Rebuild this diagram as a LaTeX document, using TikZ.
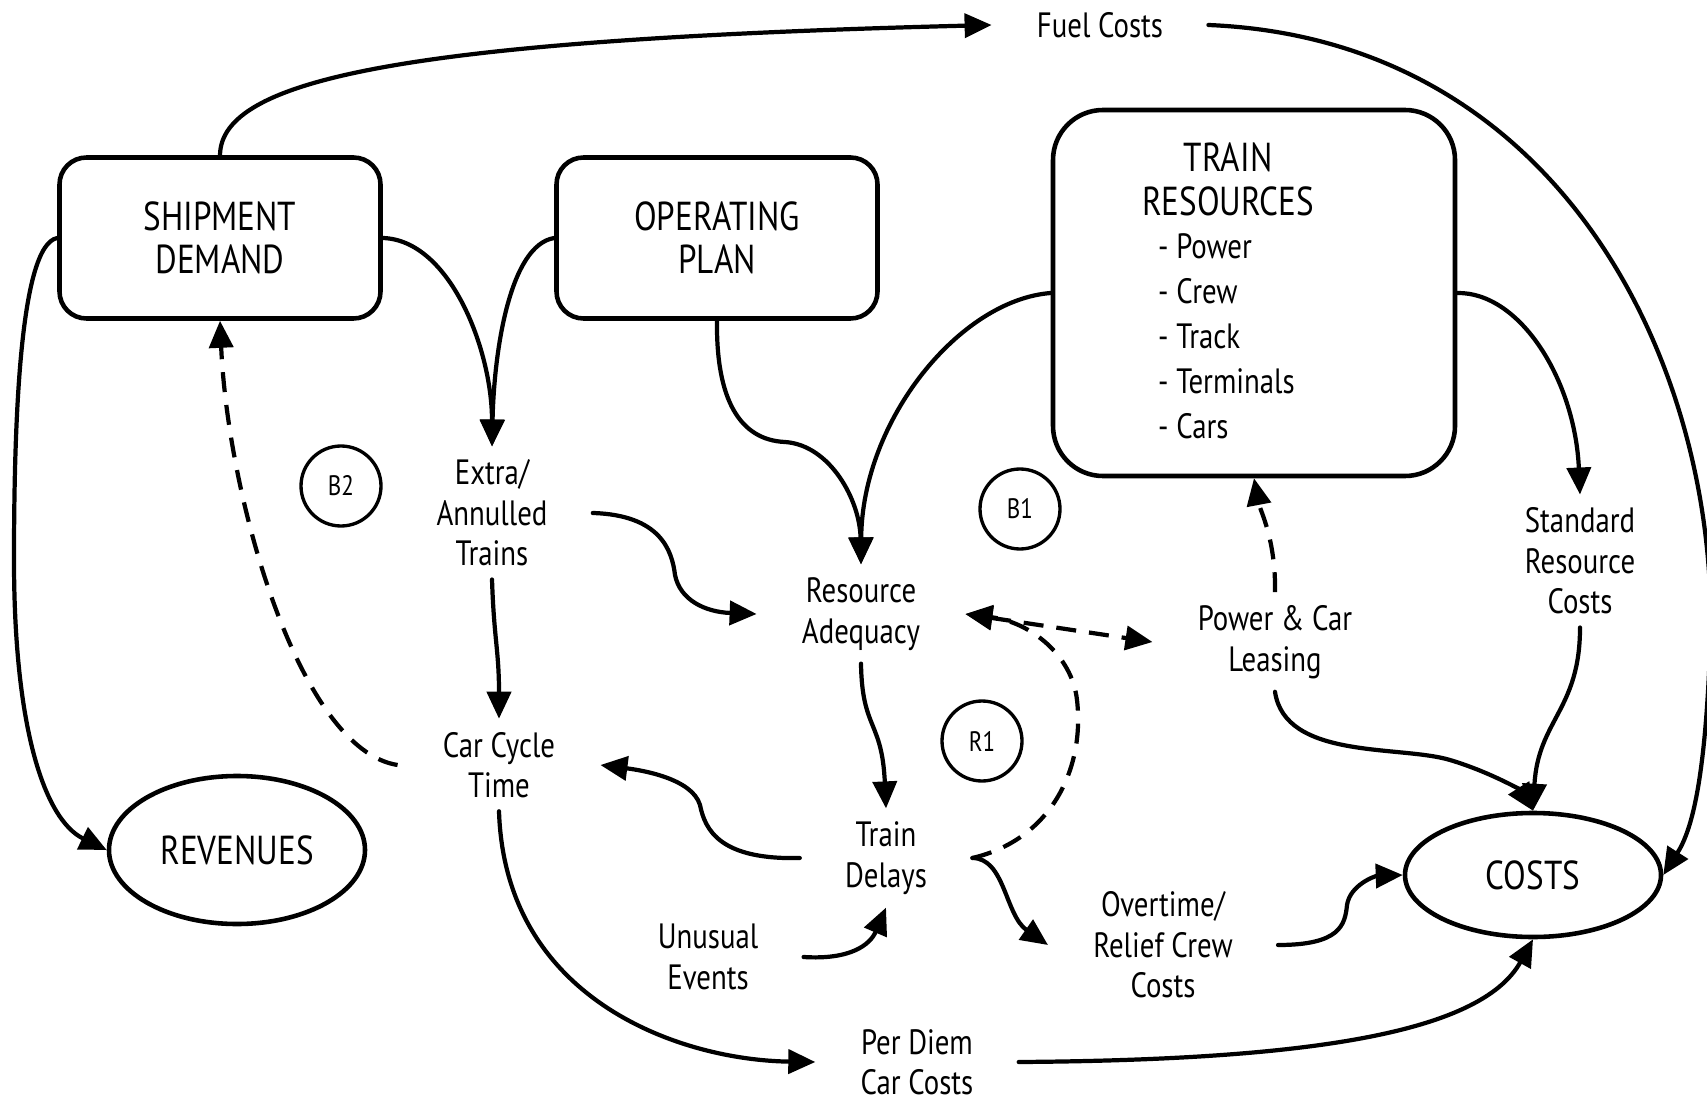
\documentclass[tikz,border=0pt]{standalone}
\usepackage{fontspec}
\setmainfont[FakeStretch=0.82]{PT Sans}
\usetikzlibrary{arrows.meta,shapes.geometric}

\begin{document}
\begin{tikzpicture}[x=0.2mm,y=-0.2mm,
  >={Triangle[length=5.4mm,width=4.8mm]},
  link/.style={->,line width=2.4pt,line cap=round},
  dlink/.style={link,line cap=butt,dash pattern=on 4mm off 2.6mm},
  block/.style={draw,line width=2.6pt,rounded corners=5.4mm,minimum width=64.2mm,minimum height=32.2mm,align=center,font=\fontsize{23}{24.5}\selectfont},
  var/.style={align=center,inner xsep=9mm,inner ysep=2.6mm,font=\fontsize{20}{23}\selectfont},
  sink/.style={draw,ellipse,line width=2.6pt,font=\fontsize{23}{24}\selectfont},
  loopmark/.style={draw,circle,line width=1.9pt,minimum size=16mm,inner sep=0pt,font=\fontsize{16}{16}\selectfont}]
  \useasboundingbox (0,0) rectangle (1707,1103);

  \node[block] (ship) at (220,238) {SHIPMENT\\DEMAND};
  \node[block] (plan) at (717,238) {OPERATING\\PLAN};
  \node[block,minimum width=80.4mm,minimum height=73.2mm,rounded corners=10mm] (res) at (1254,293) {};
  \node[align=center,font=\fontsize{23}{25}\selectfont] (reshead) at (1228,179) {TRAIN\\RESOURCES};
  \node[align=left,anchor=west,font=\fontsize{20}{25.6}\selectfont] (reslist) at (1152,336) {- Power\\- Crew\\- Track\\- Terminals\\- Cars};
  \node[sink,minimum width=51.2mm,minimum height=29.6mm] (rev) at (237,850) {REVENUES};
  \node[sink,minimum width=51.2mm,minimum height=24.8mm] (cost) at (1533,875) {COSTS};

  \node[var] (fuel) at (1100,25) {Fuel Costs};
  \node[var] (extra) at (492,513) {Extra/\\Annulled\\Trains};
  \node[var] (adeq) at (861,614) {Resource\\Adequacy};
  \node[var] (car) at (499,765) {Car Cycle\\Time};
  \node[var] (delays) at (886,858) {Train\\Delays};
  \node[var] (unusual) at (708,957) {Unusual\\Events};
  \node[var] (perdiem) at (917,1062) {Per Diem\\Car Costs};
  \node[var] (power) at (1275,642) {Power \& Car\\Leasing};
  \node[var] (overtime) at (1163,945) {Overtime/\\Relief Crew\\Costs};
  \node[var] (std) at (1580,561) {Standard\\Resource\\Costs};

  \node[loopmark] (b2) at (341,486) {B2};
  \node[loopmark] (b1) at (1020,509) {B1};
  \node[loopmark] (r1) at (982,741) {R1};

  \draw[link] (ship.north) .. controls (221,80) and (400,40) .. (fuel.west);
  \draw[link] (fuel.east) .. controls (1570,40) and (1722,380) .. (1710,650) .. controls (1705,780) and (1692,830) .. (cost.east);
  \draw[link] (ship.west) .. controls (20,245) and (14,420) .. (14,560) .. controls (14,730) and (45,820) .. (rev.west);
  \draw[link] (ship.east) .. controls (450,240) and (492,350) .. (extra.north);
  \draw[link] (plan.west) .. controls (510,245) and (494,350) .. (extra.north);
  \draw[link] (plan.south) .. controls (716,400) and (740,440) .. (785,442) .. controls (830,445) and (860,500) .. (adeq.north);
  \draw[link] (res.west) .. controls (960,300) and (862,420) .. (adeq.north);
  \draw[link] (extra.east) .. controls (660,515) and (672,550) .. (675,575) .. controls (680,600) and (705,612) .. (adeq.west);
  \draw[link] (extra.south) .. controls (494,640) and (499,650) .. (car.north);
  \draw[link] (adeq.south) .. controls (862,730) and (882,720) .. (delays.north);
  \draw[link] (delays.west) .. controls (720,860) and (705,830) .. (700,805) .. controls (692,778) and (640,770) .. (car.east);
  \draw[dlink] (car.west) .. controls (300,750) and (228,500) .. (ship.south);
  \draw[link] (car.south) .. controls (505,1000) and (680,1060) .. (perdiem.west);
  \draw[link] (unusual.east) .. controls (850,960) and (870,945) .. (delays.south);
  \draw[link] (delays.east) .. controls (1005,858) and (1005,915) .. (overtime.west);
  \draw[dlink] (delays.east) .. controls (1050,840) and (1085,770) .. (1077,700) .. controls (1072,655) and (1030,622) .. (adeq.east);
  \draw[dlink,<->] (adeq.east) -- (power.west);
  \draw[dlink] (power.north) .. controls (1276,540) and (1260,510) .. (res.south);
  \draw[link] (power.south) .. controls (1285,760) and (1400,745) .. (1450,760) .. controls (1490,772) and (1520,790) .. (cost.north);
  \draw[link] (res.east) .. controls (1520,292) and (1575,380) .. (std.north);
  \draw[link] (std.south) .. controls (1580,710) and (1538,720) .. (cost.north);
  \draw[link] (overtime.east) .. controls (1340,945) and (1345,925) .. (1347,905) .. controls (1350,885) and (1375,876) .. (cost.west);
  \draw[link] (perdiem.east) .. controls (1300,1060) and (1480,1035) .. (cost.south);
\end{tikzpicture}
\end{document}
